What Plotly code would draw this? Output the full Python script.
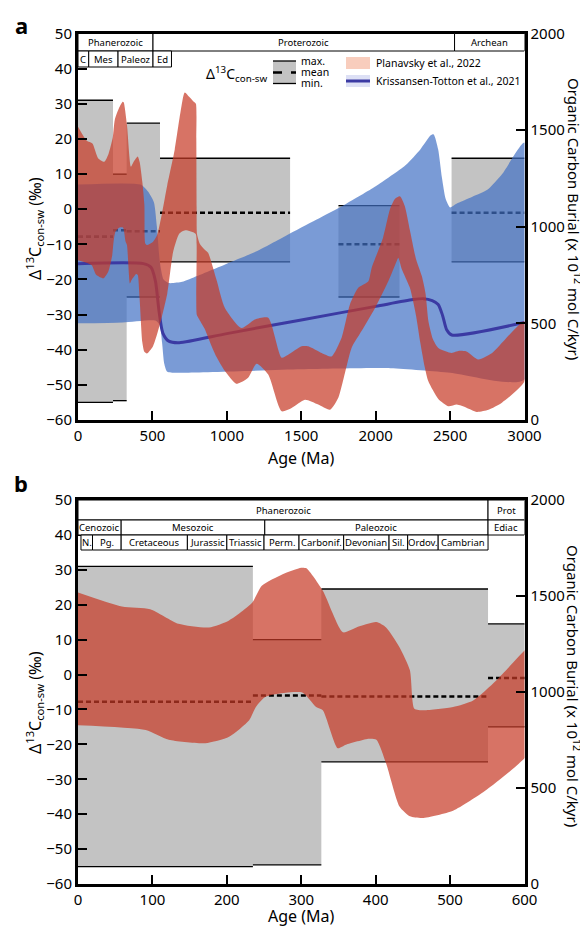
import plotly.graph_objects as go

# ---------------- data ----------------
# Delta13C con-sw interval statistics (per mil)
box_start = [0, 235, 327, 551, 1750, 2510]
box_end = [235, 327, 551, 1425, 2160, 3000]
box_max = [31, 10, 24.5, 14.5, 1, 14.5]
box_mean = [-7.8, -6, -6.3, -1, -10, -1]
box_min = [-55, -54.5, -25, -15, -25, -15]

# Planavsky et al., 2022 organic carbon burial envelope (1e12 mol C/kyr)
pl_up_age = [0, 59, 97, 135, 176, 203, 234, 247, 275, 300, 307, 329, 356, 374, 401, 414, 432, 446, 452, 464,
             504, 531, 562, 600, 650, 690, 717, 750, 780, 792, 795, 797, 800, 820, 850, 874, 930, 987, 1099, 1188,
             1278, 1368, 1412, 1502, 1547, 1637, 1704, 1771, 1827, 1883, 1951, 1973, 2050, 2096, 2130, 2163, 2195,
             2230, 2270, 2310, 2335, 2355, 2385, 2421, 2511, 2560, 2610, 2690, 2780, 3000]
pl_up = [1518, 1445, 1431, 1355, 1336, 1373, 1465, 1553, 1613, 1647, 1644, 1527, 1311, 1336, 1364, 1336, 1233, 1113, 913, 905,
         922, 956, 1060, 1216, 1400, 1600, 1695, 1670, 1645, 1636, 1450, 1100, 960, 909, 882, 865, 727, 580, 476, 520,
         529, 322, 338, 382, 382, 347, 329, 425, 598, 684, 718, 787, 945, 1091, 1145, 1158, 1109,
         982, 836, 745, 655, 509, 418, 373, 347, 358, 355, 313, 345, 511]
pl_lo_age = [0, 91, 122, 171, 203, 230, 239, 252, 279, 302, 320, 329, 349, 360, 391, 401, 414, 432, 446, 463,
             504, 549, 600, 640, 680, 720, 790, 797, 798, 810, 850, 893, 930, 987, 1065, 1143, 1200, 1278, 1368, 1435,
             1525, 1614, 1693, 1749, 1794, 1838, 1905, 1996, 2085, 2141, 2152, 2175, 2230, 2270, 2300, 2330, 2354,
             2421, 2489, 2545, 2610, 2679, 2758, 2850, 3000]
pl_lo = [827, 802, 751, 733, 767, 853, 922, 975, 996, 996, 922, 905, 707, 725, 756, 751, 629, 404, 353, 344,
         382, 491, 655, 873, 964, 982, 964, 909, 545, 527, 473, 391, 327, 253, 187, 218, 291, 235, 45, 62,
         105, 80, 53, 115, 244, 373, 460, 580, 718, 822, 840, 782, 684, 545, 400, 273, 200,
         109, 71, 80, 64, 42, 53, 91, 200]

# Krissansen-Totton et al., 2021 envelope and central line
kt_up_age = [0, 420, 470, 510, 530, 550, 575, 610, 700, 800, 1000, 1200, 1400, 1600, 1800, 2000, 2200, 2300, 2370,
             2390, 2420, 2445, 2470, 2500, 2540, 2650, 2750, 2850, 3000]
kt_up = [1218, 1218, 1182, 1127, 1000, 818, 727, 709, 715, 745, 809, 873, 955, 1036, 1118, 1209, 1318, 1400, 1473,
         1478, 1400, 1255, 1145, 1100, 1118, 1155, 1191, 1273, 1436]
kt_lo_age = [0, 300, 520, 550, 565, 580, 600, 700, 1500, 2100, 2500, 3000]
kt_lo = [500, 505, 515, 490, 400, 290, 250, 245, 262, 268, 245, 210]
kt_mid_age = [0, 440, 490, 520, 545, 570, 610, 680, 1000, 1500, 2000, 2250, 2320, 2380, 2420, 2450, 2477, 2511, 3000]
kt_mid = [809, 809, 790, 720, 560, 450, 408, 400, 447, 518, 588, 623, 628, 618, 598, 540, 467, 440, 505]

# timescale headers
a_row1 = [("Phanerozoic", 0, 504), ("Proterozoic", 504, 2530), ("Archean", 2530, 3000)]
a_row2 = [("C", 0, 72), ("Mes", 72, 269), ("Paleoz", 269, 504), ("Ed", 504, 628)]
b_row1 = [("Phanerozoic", 0, 551), ("Prot", 551, 600)]
b_row2 = [("Cenozoic", 0, 58), ("Mesozoic", 58, 251), ("Paleozoic", 251, 551), ("Ediac", 551, 600)]
b_row3 = [("N.", 4, 19.5), ("Pg.", 19.5, 58), ("Cretaceous", 58, 147), ("Jurassic", 147, 200),
          ("Triassic", 200, 250), ("Perm.", 250, 297), ("Carbonif.", 297, 357), ("Devonian", 357, 418),
          ("Sil.", 418, 443), ("Ordov.", 443, 484), ("Cambrian", 484, 551)]

a_xticks = [0, 500, 1000, 1500, 2000, 2500, 3000]
b_xticks = [0, 100, 200, 300, 400, 500, 600]
left_ticks = list(range(-60, 51, 10))
right_ticks = [0, 500, 1000, 1500, 2000]

# ---------------- styles ----------------
FONT = "Noto Sans"
GRAY = "#c3c3c3"
RED = "rgba(198,58,38,0.71)"
BLUE = "rgba(66,112,196,0.70)"
BLUE_LINE = "#3b3aa3"
W, H = 588, 926

fig = go.Figure()


def add_boxes(xa, ya):
    bx, by = [], []
    for s, e, lo, hi in zip(box_start, box_end, box_min, box_max):
        bx += [s, e, e, s, s, None]
        by += [lo, lo, hi, hi, lo, None]
    fig.add_trace(go.Scatter(x=bx, y=by, xaxis=xa, yaxis=ya, mode="lines", fill="toself",
                             fillcolor=GRAY, line=dict(width=0), hoverinfo="skip", showlegend=False))
    lx, ly = [], []
    for s, e, lo, hi in zip(box_start, box_end, box_min, box_max):
        lx += [s, e, None, s, e, None]
        ly += [hi, hi, None, lo, lo, None]
    fig.add_trace(go.Scatter(x=lx, y=ly, xaxis=xa, yaxis=ya, mode="lines",
                             line=dict(color="black", width=1.3), hoverinfo="skip", showlegend=False))
    mx, my = [], []
    for s, e, m in zip(box_start, box_end, box_mean):
        mx += [s, e, None]
        my += [m, m, None]
    fig.add_trace(go.Scatter(x=mx, y=my, xaxis=xa, yaxis=ya, mode="lines",
                             line=dict(color="black", width=2.6, dash="5px,3px"), hoverinfo="skip",
                             showlegend=False))


def add_red(xa, ya):
    fig.add_trace(go.Scatter(x=pl_up_age + pl_lo_age[::-1], y=pl_up + pl_lo[::-1], xaxis=xa, yaxis=ya,
                             mode="lines", fill="toself", fillcolor=RED,
                             line=dict(width=0, shape="spline", smoothing=0.6),
                             hoverinfo="skip", showlegend=False))


# panel a
add_boxes("x", "y")
fig.add_trace(go.Scatter(x=kt_up_age + kt_lo_age[::-1], y=kt_up + kt_lo[::-1], xaxis="x", yaxis="y2",
                         mode="lines", fill="toself", fillcolor=BLUE,
                         line=dict(width=0, shape="spline", smoothing=0.6), hoverinfo="skip", showlegend=False))
fig.add_trace(go.Scatter(x=kt_mid_age, y=kt_mid, xaxis="x", yaxis="y2", mode="lines",
                         line=dict(color=BLUE_LINE, width=3, shape="spline", smoothing=0.7),
                         hoverinfo="skip", showlegend=False))
add_red("x", "y2")

# panel b
add_boxes("x2", "y3")
add_red("x2", "y4")

XD = [70 / W, 516.5 / W]
A_TOP, A_BOT = 25.5, 412
B_TOP, B_BOT = 492, 876
YA = [1 - A_BOT / H, 1 - A_TOP / H]
YB = [1 - B_BOT / H, 1 - B_TOP / H]

tickfont = dict(family=FONT, size=15, color="black")
common = dict(showgrid=False, zeroline=False, showline=True, linecolor="black", linewidth=3,
              ticks="inside", ticklen=9, tickwidth=2, tickcolor="black", tickfont=tickfont,
              automargin=False)

fig.update_layout(
    width=W, height=H, margin=dict(l=0, r=0, t=0, b=0, autoexpand=False),
    paper_bgcolor="white", plot_bgcolor="white", showlegend=False,
    font=dict(family=FONT, color="black"),
    xaxis=dict(domain=XD, range=[0, 3000], anchor="y", tickvals=a_xticks, mirror=True, **common),
    yaxis=dict(domain=YA, range=[-60, 50], anchor="x", tickvals=left_ticks, **common),
    yaxis2=dict(range=[0, 2000], overlaying="y", side="right", anchor="x", tickvals=right_ticks, **common),
    xaxis2=dict(domain=XD, range=[0, 600], anchor="y3", tickvals=b_xticks, mirror=True, **common),
    yaxis3=dict(domain=YB, range=[-60, 50], anchor="x2", tickvals=left_ticks, **common),
    yaxis4=dict(range=[0, 2000], overlaying="y3", side="right", anchor="x2", tickvals=right_ticks, **common),
)

shapes = []
annots = []


def px(x):
    return x / W


def py(y):
    return 1 - y / H


def header(rows, xref, tops, bots, size):
    for cells, top, bot in zip(rows, tops, bots):
        for name, s, e in cells:
            shapes.append(dict(type="rect", xref=xref, yref="paper", x0=s, x1=e, y0=py(bot), y1=py(top),
                               line=dict(color="black", width=1), fillcolor="white", layer="above"))
            annots.append(dict(x=(s + e) / 2, y=py((top + bot) / 2), xref=xref, yref="paper", text=name,
                               xanchor="center", yanchor="middle", showarrow=False,
                               font=dict(family=FONT, size=size, color="black")))


header([a_row1, a_row2], "x", [A_TOP, 43], [43, 59], 9.5)
header([b_row1, b_row2, b_row3], "x2", [B_TOP, 512, 527], [512, 527, 542], 9.5)

# legend (panel a)
shapes.append(dict(type="rect", xref="paper", yref="paper", x0=px(265), x1=px(288), y0=py(75.5), y1=py(53),
                   fillcolor=GRAY, line=dict(width=0), layer="above"))
for yy, dash, wd in [(53, "solid", 1.3), (64.5, "dash", 2.6), (75.5, "solid", 1.3)]:
    shapes.append(dict(type="line", xref="paper", yref="paper", x0=px(265), x1=px(288), y0=py(yy), y1=py(yy),
                       line=dict(color="black", width=wd, dash=dash), layer="above"))
for txt, yy in [("max.", 52.5), ("mean", 63.5), ("min.", 74.5)]:
    annots.append(dict(x=px(292), y=py(yy), xref="paper", yref="paper", text=txt, showarrow=False,
                       xanchor="left", yanchor="middle", borderpad=0,
                       font=dict(family=FONT, size=10.5, color="black")))
annots.append(dict(x=px(229), y=py(66), xref="paper", yref="paper",
                   text="Δ<sup>13</sup>C<sub>con-sw</sub>", showarrow=False, xanchor="center", yanchor="middle",
                   font=dict(family=FONT, size=14, color="black")))
shapes.append(dict(type="rect", xref="paper", yref="paper", x0=px(338), x1=px(362), y0=py(61), y1=py(49),
                   fillcolor="#f8cdbd", line=dict(width=0), layer="above"))
shapes.append(dict(type="rect", xref="paper", yref="paper", x0=px(338), x1=px(362), y0=py(79), y1=py(67),
                   fillcolor="#dde0f5", line=dict(width=0), layer="above"))
shapes.append(dict(type="line", xref="paper", yref="paper", x0=px(338), x1=px(362), y0=py(73), y1=py(73),
                   line=dict(color=BLUE_LINE, width=3), layer="above"))
annots.append(dict(x=px(366), y=py(55), xref="paper", yref="paper", text="Planavsky et al., 2022",
                   showarrow=False, xanchor="left", yanchor="middle",
                   font=dict(family=FONT, size=10.5, color="black")))
annots.append(dict(x=px(366), y=py(73), xref="paper", yref="paper", text="Krissansen-Totton et al., 2021",
                   showarrow=False, xanchor="left", yanchor="middle",
                   font=dict(family=FONT, size=10.5, color="black")))

# axis titles and panel letters
ytitle = "Δ<sup>13</sup>C<sub>con-sw</sub> (‰)"
rtitle = "Organic Carbon Burial (x 10<sup>12</sup> mol C/kyr)"
for ly_, ry_, ay in [(221, 211, 450), (695, 678, 908)]:
    annots.append(dict(x=px(26), y=py(ly_), xref="paper", yref="paper", text=ytitle, textangle=-90,
                       xanchor="center", yanchor="middle", showarrow=False,
                       font=dict(family=FONT, size=16, color="black")))
    annots.append(dict(x=px(566), y=py(ry_), xref="paper", yref="paper", text=rtitle, textangle=90,
                       xanchor="center", yanchor="middle", showarrow=False,
                       font=dict(family=FONT, size=15, color="black")))
    annots.append(dict(x=px(293), y=py(ay), xref="paper", yref="paper", text="Age (Ma)",
                       xanchor="center", yanchor="middle", showarrow=False, borderpad=0,
                       font=dict(family=FONT, size=16, color="black")))
annots.append(dict(x=px(13), y=py(17), xref="paper", yref="paper", text="<b>a</b>", showarrow=False,
                   xanchor="center", yanchor="middle", font=dict(family=FONT, size=22, color="black")))
annots.append(dict(x=px(13), y=py(475), xref="paper", yref="paper", text="<b>b</b>", showarrow=False,
                   xanchor="center", yanchor="middle", font=dict(family=FONT, size=22, color="black")))

fig.update_layout(shapes=shapes, annotations=annots)
fig.write_html("out.html")
